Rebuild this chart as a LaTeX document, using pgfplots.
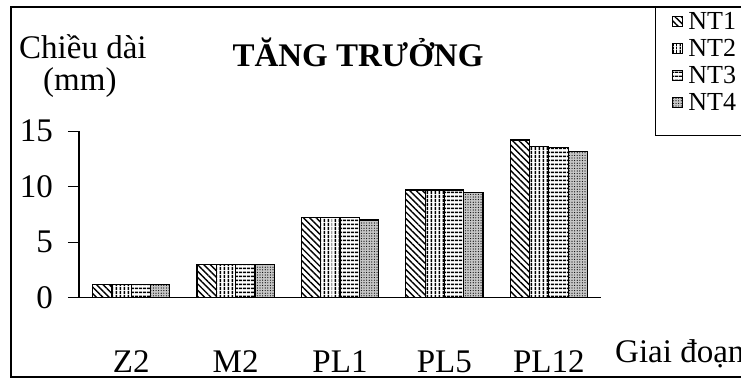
\documentclass[border=0pt]{standalone}
\usepackage{fontspec}
\setmainfont{Liberation Serif}
\usepackage{pgfplots}
\pgfplotsset{compat=1.18}
\usetikzlibrary{patterns,patterns.meta}

\newcommand{\bigtext}{\fontsize{33bp}{38bp}\selectfont}
\newcommand{\legtext}{\fontsize{26bp}{28bp}\selectfont}

\begin{document}
\begin{tikzpicture}
\useasboundingbox (0bp,0bp) rectangle (741bp,379bp);
% outer frame
\draw[line width=1.3bp] (11bp,2bp) rectangle (760bp,372bp);
% legend frame
\draw[line width=1bp] (655.5bp,243bp) rectangle (760bp,371bp);
% titles
\node[anchor=base west, inner sep=0pt, font=\bigtext] at (19bp,320bp) {Chiều dài};
\node[anchor=base west, inner sep=0pt, font=\bigtext] at (43bp,288bp) {(mm)};
\node[anchor=base, inner sep=0pt, font=\bigtext\bfseries] at (358bp,312bp) {TĂNG TRƯỞNG};
\node[anchor=base west, inner sep=0pt, font=\bigtext] at (615bp,16.5bp) {Giai đoạn};

\begin{axis}[
  at={(79bp,81.3bp)}, anchor=south west,
  width=522bp, height=166.5bp, scale only axis,
  xmin=-0.5, xmax=4.5, ymin=0, ymax=15,
  axis x line=bottom, axis y line=left,
  axis line style={line width=1.2bp, -},
  ybar=0pt, bar width=19.3bp,
  xtick={0,1,2,3,4},
  xticklabels={Z2,M2,PL1,PL5,PL12},
  x tick style={draw=none},
  extra x ticks={-0.5,0.5,1.5,2.5,3.5,4.5},
  extra x tick labels={},
  extra x tick style={tick style={draw=black, line width=1.2bp}, major tick length=10bp, tick align=outside},
  ytick={0,5,10,15},
  y tick style={line width=1.2bp, black},
  major tick length=11bp, tick align=outside,
  /pgf/number format/assume math mode=true,
  ticklabel style={font=\bigtext, inner sep=0pt},
  xticklabel style={anchor=base, yshift=-64bp},
  yticklabel style={anchor=east, xshift=-15bp},
  legend style={at={(1.136,1.716)}, anchor=north west, draw=none, fill=none,
    inner sep=0pt, row sep=8.3bp, font=\legtext,
    nodes={inner sep=0pt}},
  legend cell align=left,
  % swatch plus a 5bp gap before the entry text
  legend image code/.code={\draw[#1] (0bp,-5bp) rectangle (10bp,5bp); \path (15bp,0bp);},
  every axis plot/.append style={draw=black, line width=1.2bp},
]
\addplot[fill=white, postaction={pattern={Lines[angle=-45, distance=4.5bp, line width=1.4bp]}}]
  coordinates {(0,1.2) (1,3.0) (2,7.2) (3,9.7) (4,14.2)};
\addplot[fill=white, postaction={pattern={Lines[angle=90, distance=3.6bp, line width=1.4bp]}}]
  coordinates {(0,1.2) (1,3.0) (2,7.2) (3,9.7) (4,13.6)};
\addplot[fill=white, postaction={pattern={Lines[angle=0, distance=3.6bp, line width=1.4bp]}}]
  coordinates {(0,1.2) (1,3.0) (2,7.2) (3,9.7) (4,13.5)};
\addplot[fill=gray!45, postaction={pattern={Dots[distance=2.6bp, radius=0.6bp]}}]
  coordinates {(0,1.2) (1,3.0) (2,7.0) (3,9.5) (4,13.2)};
\legend{NT1,NT2,NT3,NT4}
\end{axis}
\end{tikzpicture}
\end{document}
